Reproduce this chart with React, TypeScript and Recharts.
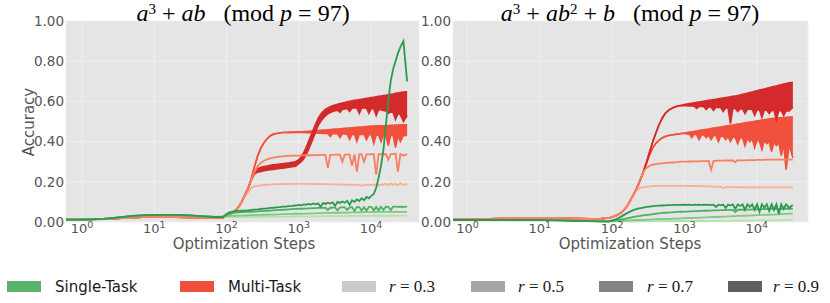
import React from 'react';
import { ComposedChart, Line, Area, XAxis, YAxis, CartesianGrid } from 'recharts';

// ---------- shared x grid (optimization steps) ----------
const steps = [
  0.6, 1, 2, 3, 5, 8, 12, 20, 30, 50, 70, 90,
  100, 110, 120, 135, 150, 165, 180, 200, 220, 245, 270, 300, 330, 365, 400, 440, 490, 540, 600, 660, 730, 810, 900,
  1000, 1080, 1170, 1260, 1360, 1470, 1590, 1720, 1850, 2000,
  2160, 2330, 2520, 2720, 2940, 3170, 3430, 3700, 4000, 4320,
  4670, 5040, 5440, 5880, 6350, 6860, 7410, 8000, 8640, 9330,
  10080, 10890, 11760, 12700, 13720, 14820, 16000, 17280, 18660, 20160,
  21770, 23510, 25390, 28000, 31500,
];

const xTicks = [1, 10, 100, 1000, 10000];
const yTicks = [0, 0.2, 0.4, 0.6, 0.8, 1.0];
const xLabel = 'Optimization Steps';
const yLabel = 'Accuracy';
const rValues = ['0.3', '0.5', '0.7', '0.9'];

// ---------- left panel: a^3 + ab ----------
// noisy runs are given as a band: upper (HI) and lower (LO, with downward spikes) envelopes
const L_M09_HI = [
  0.012, 0.012, 0.015, 0.018, 0.022, 0.025, 0.025, 0.024, 0.023, 0.022, 0.022, 0.023,
  0.028, 0.035, 0.045, 0.06, 0.08, 0.105, 0.135, 0.17, 0.21, 0.25, 0.265, 0.272, 0.276, 0.279, 0.282, 0.284, 0.286, 0.288, 0.29, 0.292, 0.294, 0.297, 0.3,
  0.31, 0.325, 0.345, 0.37, 0.4, 0.43, 0.46, 0.49, 0.515, 0.535,
  0.55, 0.56, 0.568, 0.574, 0.578, 0.582, 0.586, 0.589, 0.592, 0.595,
  0.598, 0.6, 0.603, 0.605, 0.607, 0.609, 0.611, 0.613, 0.615, 0.617,
  0.619, 0.621, 0.623, 0.625, 0.627, 0.629, 0.631, 0.633, 0.635, 0.637,
  0.64, 0.642, 0.644, 0.646, 0.648,
];
const L_M09_LO = [
  0.012, 0.012, 0.015, 0.018, 0.022, 0.025, 0.025, 0.024, 0.023, 0.022, 0.022, 0.023,
  0.028, 0.035, 0.045, 0.06, 0.08, 0.105, 0.135, 0.17, 0.21, 0.24, 0.248, 0.252, 0.255, 0.258, 0.26, 0.262, 0.264, 0.266, 0.268, 0.27, 0.272, 0.275, 0.278,
  0.29, 0.3, 0.315, 0.335, 0.36, 0.39, 0.42, 0.45, 0.48, 0.5,
  0.515, 0.528, 0.538, 0.545, 0.55, 0.553, 0.556, 0.545, 0.56, 0.562,
  0.565, 0.55, 0.566, 0.567, 0.568, 0.54, 0.568, 0.567, 0.566, 0.54,
  0.565, 0.563, 0.53, 0.56, 0.558, 0.555, 0.552, 0.54, 0.548, 0.545,
  0.51, 0.54, 0.535, 0.5, 0.53,
];
const L_M07_HI = [
  0.012, 0.012, 0.015, 0.018, 0.022, 0.025, 0.025, 0.024, 0.023, 0.022, 0.022, 0.023,
  0.028, 0.035, 0.045, 0.06, 0.08, 0.105, 0.135, 0.17, 0.215, 0.28, 0.33, 0.37, 0.395, 0.415, 0.428, 0.436, 0.44, 0.443, 0.445, 0.445, 0.446, 0.446, 0.447,
  0.449, 0.449, 0.45, 0.45, 0.451, 0.452, 0.453, 0.454, 0.455, 0.456,
  0.457, 0.458, 0.459, 0.46, 0.461, 0.462, 0.463, 0.464, 0.465, 0.466,
  0.467, 0.468, 0.469, 0.47, 0.471, 0.472, 0.473, 0.474, 0.475, 0.476,
  0.477, 0.477, 0.478, 0.478, 0.479, 0.479, 0.48, 0.48, 0.481, 0.481,
  0.482, 0.482, 0.483, 0.483, 0.484,
];
const L_M07_LO = [
  0.012, 0.012, 0.015, 0.018, 0.022, 0.025, 0.025, 0.024, 0.023, 0.022, 0.022, 0.023,
  0.028, 0.035, 0.045, 0.06, 0.08, 0.105, 0.135, 0.17, 0.215, 0.28, 0.33, 0.37, 0.395, 0.415, 0.428, 0.436, 0.44, 0.443, 0.445, 0.445, 0.446, 0.446, 0.447,
  0.445, 0.445, 0.445, 0.444, 0.444, 0.444, 0.443, 0.443, 0.442, 0.442,
  0.441, 0.441, 0.44, 0.425, 0.44, 0.439, 0.439, 0.42, 0.438, 0.438,
  0.437, 0.41, 0.437, 0.436, 0.4, 0.436, 0.435, 0.435, 0.41, 0.434,
  0.434, 0.39, 0.433, 0.433, 0.4, 0.432, 0.432, 0.38, 0.431, 0.43,
  0.37, 0.43, 0.4, 0.43, 0.43,
];
const L_M05 = [
  0.012, 0.012, 0.015, 0.018, 0.022, 0.025, 0.025, 0.024, 0.023, 0.022, 0.022, 0.023,
  0.028, 0.035, 0.045, 0.06, 0.08, 0.105, 0.135, 0.17, 0.21, 0.25, 0.28, 0.295, 0.305, 0.312, 0.317, 0.32, 0.323, 0.325, 0.327, 0.328, 0.329, 0.33, 0.33,
  0.33, 0.331, 0.331, 0.332, 0.332, 0.332, 0.333, 0.333, 0.333, 0.333,
  0.334, 0.334, 0.27, 0.334, 0.334, 0.335, 0.335, 0.335, 0.30, 0.335,
  0.335, 0.336, 0.28, 0.336, 0.25, 0.336, 0.336, 0.30, 0.336, 0.336,
  0.337, 0.337, 0.235, 0.337, 0.337, 0.337, 0.338, 0.31, 0.338, 0.338,
  0.34, 0.25, 0.338, 0.33, 0.338,
];
const L_M03 = [
  0.012, 0.012, 0.015, 0.018, 0.022, 0.025, 0.025, 0.024, 0.023, 0.022, 0.022, 0.023,
  0.028, 0.035, 0.045, 0.06, 0.08, 0.1, 0.125, 0.15, 0.17, 0.178, 0.18, 0.182, 0.184, 0.185, 0.186, 0.187, 0.188, 0.188, 0.189, 0.189, 0.189, 0.19, 0.19,
  0.19, 0.19, 0.19, 0.19, 0.19, 0.189, 0.189, 0.189, 0.189, 0.188,
  0.188, 0.188, 0.188, 0.187, 0.187, 0.187, 0.187, 0.186, 0.186, 0.186,
  0.186, 0.186, 0.185, 0.185, 0.185, 0.185, 0.18, 0.185, 0.185, 0.185,
  0.185, 0.186, 0.186, 0.182, 0.187, 0.186, 0.19, 0.183, 0.192, 0.184,
  0.19, 0.182, 0.193, 0.185, 0.19,
];
const L_S09 = [
  0.012, 0.012, 0.016, 0.022, 0.03, 0.034, 0.035, 0.035, 0.033, 0.028, 0.025, 0.026,
  0.04, 0.048, 0.052, 0.055, 0.055, 0.056, 0.057, 0.058, 0.06, 0.062, 0.063, 0.065, 0.067, 0.068, 0.07, 0.071, 0.073, 0.074, 0.076, 0.077, 0.079, 0.08, 0.082,
  0.085, 0.083, 0.088, 0.086, 0.09, 0.087, 0.092, 0.088, 0.093, 0.075,
  0.094, 0.09, 0.096, 0.092, 0.098, 0.08, 0.1, 0.095, 0.102, 0.096,
  0.105, 0.085, 0.108, 0.1, 0.112, 0.104, 0.118, 0.108, 0.125, 0.118,
  0.13, 0.14, 0.17, 0.22, 0.28, 0.36, 0.48, 0.6, 0.7, 0.76,
  0.8, 0.84, 0.87, 0.9, 0.7,
];
const L_S07 = [
  0.012, 0.012, 0.016, 0.022, 0.03, 0.034, 0.035, 0.035, 0.033, 0.028, 0.025, 0.026,
  0.035, 0.042, 0.045, 0.047, 0.048, 0.049, 0.05, 0.05, 0.051, 0.052, 0.053, 0.054, 0.055, 0.056, 0.057, 0.058, 0.059, 0.06, 0.061, 0.062, 0.063, 0.064, 0.065,
  0.066, 0.066, 0.067, 0.067, 0.068, 0.068, 0.069, 0.069, 0.07, 0.07,
  0.07, 0.071, 0.06, 0.071, 0.072, 0.072, 0.058, 0.072, 0.073, 0.073,
  0.06, 0.073, 0.074, 0.055, 0.074, 0.074, 0.056, 0.074, 0.057, 0.075,
  0.075, 0.058, 0.075, 0.058, 0.076, 0.06, 0.076, 0.075, 0.06, 0.076,
  0.076, 0.075, 0.076, 0.075, 0.076,
];
const L_S05 = [
  0.012, 0.012, 0.016, 0.022, 0.03, 0.034, 0.035, 0.035, 0.033, 0.028, 0.025, 0.026,
  0.028, 0.03, 0.031, 0.031, 0.032, 0.032, 0.033, 0.033, 0.034, 0.034, 0.035, 0.035, 0.036, 0.036, 0.037, 0.037, 0.038, 0.038, 0.039, 0.039, 0.04, 0.04, 0.041,
  0.041, 0.041, 0.042, 0.042, 0.042, 0.043, 0.043, 0.043, 0.044, 0.044,
  0.044, 0.045, 0.045, 0.045, 0.046, 0.046, 0.046, 0.046, 0.047, 0.047,
  0.047, 0.047, 0.048, 0.048, 0.048, 0.048, 0.048, 0.049, 0.049, 0.049,
  0.049, 0.049, 0.05, 0.05, 0.05, 0.05, 0.05, 0.05, 0.05, 0.05,
  0.05, 0.05, 0.05, 0.05, 0.05,
];
const L_S03 = [
  0.012, 0.012, 0.016, 0.022, 0.03, 0.034, 0.035, 0.035, 0.033, 0.028, 0.025, 0.026,
  0.025, 0.025, 0.025, 0.025, 0.025, 0.025, 0.025, 0.025, 0.025, 0.026, 0.026, 0.026, 0.026, 0.026, 0.026, 0.027, 0.027, 0.027, 0.027, 0.027, 0.027, 0.028, 0.028,
  0.028, 0.028, 0.028, 0.028, 0.028, 0.028, 0.028, 0.028, 0.028, 0.028,
  0.029, 0.029, 0.029, 0.029, 0.029, 0.029, 0.029, 0.029, 0.029, 0.029,
  0.03, 0.03, 0.03, 0.03, 0.03, 0.03, 0.03, 0.03, 0.03, 0.03,
  0.031, 0.031, 0.031, 0.031, 0.031, 0.031, 0.031, 0.031, 0.031, 0.031,
  0.032, 0.032, 0.032, 0.032, 0.032,
];

// ---------- right panel: a^3 + ab^2 + b ----------
const R_M09_HI = [
  0.015, 0.015, 0.016, 0.017, 0.018, 0.02, 0.02, 0.018, 0.017, 0.016, 0.017, 0.02,
  0.025, 0.03, 0.037, 0.048, 0.065, 0.085, 0.11, 0.14, 0.17, 0.21, 0.25, 0.3, 0.35, 0.4, 0.44, 0.48, 0.515, 0.54, 0.555, 0.565, 0.572, 0.577, 0.58,
  0.585, 0.587, 0.589, 0.591, 0.593, 0.595, 0.597, 0.599, 0.601, 0.603,
  0.605, 0.607, 0.609, 0.611, 0.613, 0.615, 0.617, 0.619, 0.621, 0.623,
  0.625, 0.627, 0.629, 0.632, 0.635, 0.638, 0.641, 0.644, 0.647, 0.65,
  0.653, 0.656, 0.659, 0.662, 0.665, 0.668, 0.671, 0.674, 0.677, 0.68,
  0.683, 0.686, 0.689, 0.692, 0.695,
];
const R_M09_LO = [
  0.015, 0.015, 0.016, 0.017, 0.018, 0.02, 0.02, 0.018, 0.017, 0.016, 0.017, 0.02,
  0.025, 0.03, 0.037, 0.048, 0.065, 0.085, 0.11, 0.14, 0.17, 0.21, 0.25, 0.3, 0.35, 0.4, 0.44, 0.48, 0.515, 0.54, 0.555, 0.565, 0.572, 0.577, 0.58,
  0.578, 0.578, 0.577, 0.577, 0.576, 0.565, 0.575, 0.575, 0.574, 0.56,
  0.573, 0.572, 0.555, 0.571, 0.57, 0.569, 0.55, 0.568, 0.567, 0.49,
  0.566, 0.565, 0.55, 0.564, 0.563, 0.54, 0.562, 0.561, 0.56, 0.53,
  0.559, 0.558, 0.52, 0.557, 0.556, 0.54, 0.555, 0.555, 0.51, 0.555,
  0.554, 0.53, 0.553, 0.552, 0.57,
];
const R_M07_HI = [
  0.015, 0.015, 0.016, 0.017, 0.018, 0.02, 0.02, 0.018, 0.017, 0.016, 0.017, 0.02,
  0.025, 0.03, 0.037, 0.048, 0.065, 0.085, 0.11, 0.14, 0.17, 0.21, 0.25, 0.295, 0.335, 0.37, 0.39, 0.405, 0.418, 0.425, 0.43, 0.433, 0.435, 0.437, 0.44,
  0.443, 0.445, 0.447, 0.449, 0.451, 0.453, 0.455, 0.457, 0.459, 0.461,
  0.463, 0.465, 0.467, 0.469, 0.471, 0.473, 0.475, 0.477, 0.479, 0.481,
  0.483, 0.485, 0.487, 0.489, 0.491, 0.493, 0.495, 0.497, 0.499, 0.501,
  0.503, 0.505, 0.507, 0.509, 0.511, 0.513, 0.515, 0.516, 0.517, 0.518,
  0.519, 0.52, 0.521, 0.522, 0.523,
];
const R_M07_LO = [
  0.015, 0.015, 0.016, 0.017, 0.018, 0.02, 0.02, 0.018, 0.017, 0.016, 0.017, 0.02,
  0.025, 0.03, 0.037, 0.048, 0.065, 0.085, 0.11, 0.14, 0.17, 0.21, 0.25, 0.295, 0.335, 0.37, 0.39, 0.405, 0.418, 0.425, 0.43, 0.433, 0.435, 0.437, 0.44,
  0.44, 0.438, 0.437, 0.42, 0.436, 0.435, 0.41, 0.434, 0.433, 0.42,
  0.432, 0.41, 0.43, 0.43, 0.4, 0.428, 0.427, 0.41, 0.425, 0.4,
  0.423, 0.42, 0.39, 0.42, 0.418, 0.38, 0.416, 0.4, 0.414, 0.37,
  0.41, 0.4, 0.36, 0.405, 0.39, 0.4, 0.35, 0.398, 0.38, 0.395,
  0.33, 0.39, 0.26, 0.385, 0.32,
];
const R_M05 = [
  0.015, 0.015, 0.016, 0.017, 0.018, 0.02, 0.02, 0.018, 0.017, 0.016, 0.017, 0.02,
  0.025, 0.03, 0.037, 0.048, 0.065, 0.085, 0.11, 0.14, 0.17, 0.21, 0.25, 0.27, 0.28, 0.285, 0.288, 0.29, 0.292, 0.294, 0.295, 0.296, 0.297, 0.298, 0.3,
  0.3, 0.3, 0.301, 0.301, 0.302, 0.302, 0.302, 0.303, 0.303, 0.303,
  0.304, 0.26, 0.304, 0.304, 0.305, 0.305, 0.305, 0.306, 0.306, 0.306,
  0.306, 0.298, 0.308, 0.307, 0.307, 0.307, 0.308, 0.308, 0.308, 0.308,
  0.309, 0.309, 0.309, 0.309, 0.31, 0.31, 0.31, 0.31, 0.31, 0.31,
  0.31, 0.31, 0.31, 0.31, 0.31,
];
const R_M03 = [
  0.015, 0.015, 0.016, 0.017, 0.018, 0.02, 0.02, 0.018, 0.017, 0.016, 0.017, 0.02,
  0.025, 0.03, 0.037, 0.048, 0.065, 0.085, 0.11, 0.14, 0.16, 0.17, 0.173, 0.175, 0.177, 0.178, 0.179, 0.18, 0.18, 0.18, 0.18, 0.18, 0.18, 0.18, 0.18,
  0.18, 0.18, 0.18, 0.179, 0.179, 0.179, 0.178, 0.178, 0.178, 0.177,
  0.177, 0.177, 0.176, 0.176, 0.176, 0.175, 0.168, 0.175, 0.174, 0.174,
  0.174, 0.174, 0.173, 0.173, 0.173, 0.173, 0.172, 0.172, 0.172, 0.172,
  0.172, 0.172, 0.172, 0.172, 0.172, 0.172, 0.172, 0.172, 0.172, 0.172,
  0.172, 0.172, 0.172, 0.172, 0.172,
];
const R_S09 = [
  0.01, 0.01, 0.01, 0.01, 0.01, 0.01, 0.009, 0.008, 0.006, 0.004, 0.003, 0.003,
  0.008, 0.012, 0.018, 0.028, 0.038, 0.046, 0.053, 0.06, 0.065, 0.069, 0.072, 0.075, 0.077, 0.079, 0.08, 0.081, 0.082, 0.083, 0.084, 0.084, 0.085, 0.085, 0.085,
  0.086, 0.085, 0.086, 0.084, 0.086, 0.085, 0.086, 0.084, 0.086, 0.085,
  0.086, 0.084, 0.086, 0.075, 0.086, 0.083, 0.087, 0.07, 0.087, 0.082,
  0.087, 0.065, 0.087, 0.08, 0.088, 0.06, 0.088, 0.075, 0.088, 0.06,
  0.088, 0.05, 0.088, 0.07, 0.088, 0.055, 0.088, 0.06, 0.088, 0.04,
  0.088, 0.065, 0.088, 0.07, 0.085,
];
const R_S07 = [
  0.01, 0.01, 0.01, 0.01, 0.01, 0.01, 0.009, 0.008, 0.006, 0.004, 0.003, 0.003,
  0.006, 0.008, 0.01, 0.013, 0.016, 0.019, 0.022, 0.025, 0.028, 0.03, 0.033, 0.035, 0.037, 0.039, 0.041, 0.043, 0.045, 0.046, 0.047, 0.048, 0.049, 0.05, 0.051,
  0.052, 0.052, 0.053, 0.053, 0.054, 0.054, 0.055, 0.055, 0.056, 0.056,
  0.057, 0.057, 0.058, 0.058, 0.058, 0.059, 0.059, 0.059, 0.06, 0.06,
  0.06, 0.05, 0.061, 0.061, 0.061, 0.062, 0.062, 0.062, 0.063, 0.063,
  0.063, 0.063, 0.064, 0.064, 0.064, 0.064, 0.065, 0.065, 0.065, 0.065,
  0.065, 0.065, 0.066, 0.066, 0.066,
];
const R_S05 = [
  0.01, 0.01, 0.01, 0.01, 0.01, 0.01, 0.009, 0.008, 0.006, 0.004, 0.003, 0.003,
  0.004, 0.005, 0.006, 0.006, 0.007, 0.008, 0.008, 0.009, 0.01, 0.01, 0.011, 0.012, 0.012, 0.013, 0.014, 0.014, 0.015, 0.015, 0.016, 0.016, 0.017, 0.017, 0.018,
  0.019, 0.019, 0.02, 0.02, 0.021, 0.021, 0.022, 0.022, 0.023, 0.023,
  0.024, 0.024, 0.025, 0.025, 0.026, 0.026, 0.027, 0.027, 0.028, 0.028,
  0.029, 0.029, 0.03, 0.03, 0.031, 0.031, 0.032, 0.032, 0.033, 0.033,
  0.034, 0.034, 0.035, 0.035, 0.036, 0.036, 0.037, 0.037, 0.038, 0.038,
  0.039, 0.04, 0.04, 0.041, 0.042,
];
const R_S03 = [
  0.01, 0.01, 0.01, 0.01, 0.01, 0.01, 0.009, 0.008, 0.006, 0.004, 0.003, 0.003,
  0.003, 0.003, 0.003, 0.003, 0.003, 0.003, 0.003, 0.003, 0.003, 0.003, 0.004, 0.004, 0.004, 0.004, 0.004, 0.004, 0.004, 0.004, 0.005, 0.005, 0.005, 0.005, 0.005,
  0.005, 0.005, 0.005, 0.005, 0.005, 0.005, 0.005, 0.005, 0.005, 0.005,
  0.006, 0.006, 0.006, 0.006, 0.006, 0.006, 0.006, 0.006, 0.006, 0.006,
  0.007, 0.007, 0.007, 0.007, 0.007, 0.007, 0.007, 0.007, 0.007, 0.007,
  0.008, 0.008, 0.008, 0.008, 0.008, 0.008, 0.008, 0.008, 0.008, 0.008,
  0.009, 0.01, 0.01, 0.011, 0.012,
];

// ---------- styling ----------
const FONT = '"DejaVu Sans", sans-serif';
const SERIF = '"Liberation Serif", "DejaVu Serif", serif';
const TICK_COLOR = '#555555';
const BG = '#e5e5e5';
const GRID = '#efefef';

// draw order: multi-task (red) first, single-task (green) on top
const seriesDefs = [
  { key: 'm3', color: '#fcae93', band: false },
  { key: 'm5', color: '#fb7f5f', band: false },
  { key: 'm7', color: '#f0503c', band: true },
  { key: 'm9', color: '#d42a2b', band: true },
  { key: 's3', color: '#b4e2ab', band: false },
  { key: 's5', color: '#80c97e', band: false },
  { key: 's7', color: '#4cb062', band: false },
  { key: 's9', color: '#2b9a50', band: false },
];

const legendTask = [
  { label: 'Single-Task', color: '#59b46a', patchX: 7, textX: 55 },
  { label: 'Multi-Task', color: '#f14f3d', patchX: 180, textX: 228 },
];
const legendR = [
  { color: '#cbcbcb', patchX: 342, textX: 389 },
  { color: '#a6a6a6', patchX: 471, textX: 518 },
  { color: '#838383', patchX: 599, textX: 647 },
  { color: '#5f5f5f', patchX: 728, textX: 773 },
];

type Arr = number[] | [number[], number[]];
const buildRows = (arrs: Record<string, Arr>) =>
  steps.map((s, i) => {
    const row: Record<string, any> = { step: s };
    Object.keys(arrs).forEach((k) => {
      const a = arrs[k] as any;
      row[k] = Array.isArray(a[0]) ? [a[0][i], a[1][i]] : a[i];
    });
    return row;
  });

const leftData = buildRows({
  m3: L_M03, m5: L_M05, m7: [L_M07_LO, L_M07_HI], m9: [L_M09_LO, L_M09_HI],
  s3: L_S03, s5: L_S05, s7: L_S07, s9: L_S09,
});
const rightData = buildRows({
  m3: R_M03, m5: R_M05, m7: [R_M07_LO, R_M07_HI], m9: [R_M09_LO, R_M09_HI],
  s3: R_S03, s5: R_S05, s7: R_S07, s9: R_S09,
});

const LogTick = (props: any) => {
  const { x, y, payload } = props;
  const exp = Math.round(Math.log10(payload.value));
  return (
    <text x={x} y={y + 11} textAnchor="middle" fill={TICK_COLOR} fontSize={13} fontFamily={FONT}>
      10
      <tspan dy={-5} fontSize={9.5}>
        {exp}
      </tspan>
    </text>
  );
};

type PanelProps = {
  data: Record<string, any>[];
  width: number;
  yWidth: number;
  domain: [number, number];
};

const Panel = ({ data, width, yWidth, domain }: PanelProps) => (
  <ComposedChart width={width} height={255} data={data} margin={{ top: 21, right: 2, left: 0, bottom: 0 }}>
    <CartesianGrid stroke={GRID} strokeWidth={1} fill={BG} />
    <XAxis
      dataKey="step"
      type="number"
      scale="log"
      domain={domain}
      allowDataOverflow
      ticks={xTicks}
      tick={<LogTick />}
      tickLine={false}
      axisLine={false}
      tickSize={0}
      tickMargin={0}
      height={33}
    />
    <YAxis
      type="number"
      domain={[0, 1]}
      ticks={yTicks}
      width={yWidth}
      tickFormatter={(v: number) => v.toFixed(2)}
      tickLine={false}
      axisLine={false}
      tickSize={0}
      tickMargin={2}
      tick={{ fontSize: 13.5, fill: TICK_COLOR, fontFamily: FONT }}
    />
    {seriesDefs.map((s) =>
      s.band ? (
        <Area
          key={s.key}
          dataKey={s.key}
          type="linear"
          stroke={s.color}
          strokeWidth={1.6}
          fill={s.color}
          fillOpacity={1}
          dot={false}
          activeDot={false}
          isAnimationActive={false}
        />
      ) : (
        <Line
          key={s.key}
          dataKey={s.key}
          type="linear"
          stroke={s.color}
          strokeWidth={1.8}
          dot={false}
          activeDot={false}
          isAnimationActive={false}
        />
      )
    )}
  </ComposedChart>
);

const Sup = ({ children }: { children: React.ReactNode }) => (
  <span style={{ fontSize: 15, position: 'relative', top: -7 }}>{children}</span>
);

const TitleLeft = () => (
  <>
    <i>a</i>
    <Sup>3</Sup>
    {' + '}
    <i>ab</i>
    {'   (mod '}
    <i>p</i>
    {' = 97)'}
  </>
);
const TitleRight = () => (
  <>
    <i>a</i>
    <Sup>3</Sup>
    {' + '}
    <i>ab</i>
    <Sup>2</Sup>
    {' + '}
    <i>b</i>
    {'   (mod '}
    <i>p</i>
    {' = 97)'}
  </>
);

const titleStyle = (center: number): React.CSSProperties => ({
  position: 'absolute',
  left: center - 200,
  width: 400,
  top: 0,
  textAlign: 'center',
  fontFamily: SERIF,
  fontSize: 24,
  lineHeight: '26px',
  color: '#000',
  whiteSpace: 'pre',
  zIndex: 2,
});

const xLabelStyle = (center: number): React.CSSProperties => ({
  position: 'absolute',
  left: center - 100,
  width: 200,
  top: 237,
  textAlign: 'center',
  fontFamily: FONT,
  fontSize: 15,
  lineHeight: '15px',
  color: TICK_COLOR,
});

export default function App() {
  return (
    <div style={{ position: 'absolute', left: 0, top: 0, width: 830, height: 303, background: '#fff', overflow: 'hidden' }}>
      <div style={{ position: 'absolute', left: 0, top: 0 }}>
        <Panel data={leftData} width={421} yWidth={66} domain={[0.6, 46000]} />
      </div>
      <div style={{ position: 'absolute', left: 410, top: 0 }}>
        <Panel data={rightData} width={400} yWidth={43} domain={[0.63, 51000]} />
      </div>

      <div style={titleStyle(243)}>
        <TitleLeft />
      </div>
      <div style={titleStyle(630)}>
        <TitleRight />
      </div>

      <div
        style={{
          position: 'absolute',
          left: 29 - 50,
          top: 122 - 10,
          width: 100,
          height: 20,
          lineHeight: '20px',
          textAlign: 'center',
          fontFamily: FONT,
          fontSize: 15,
          color: TICK_COLOR,
          transform: 'rotate(-90deg)',
        }}
      >
        {yLabel}
      </div>
      <div style={xLabelStyle(244)}>{xLabel}</div>
      <div style={xLabelStyle(630)}>{xLabel}</div>

      {legendTask.map((l) => (
        <React.Fragment key={l.label}>
          <div style={{ position: 'absolute', left: l.patchX, top: 281, width: 34, height: 11, background: l.color }} />
          <div
            style={{
              position: 'absolute',
              left: l.textX,
              top: 278,
              fontFamily: FONT,
              fontSize: 15,
              lineHeight: '18px',
              color: '#1a1a1a',
              whiteSpace: 'pre',
            }}
          >
            {l.label}
          </div>
        </React.Fragment>
      ))}
      {legendR.map((l, i) => (
        <React.Fragment key={rValues[i]}>
          <div style={{ position: 'absolute', left: l.patchX, top: 281, width: 34, height: 11, background: l.color }} />
          <div
            style={{
              position: 'absolute',
              left: l.textX,
              top: 277,
              fontFamily: SERIF,
              fontSize: 17,
              lineHeight: '20px',
              color: '#1a1a1a',
              whiteSpace: 'pre',
            }}
          >
            <i>r</i>
            {' = ' + rValues[i]}
          </div>
        </React.Fragment>
      ))}
    </div>
  );
}
